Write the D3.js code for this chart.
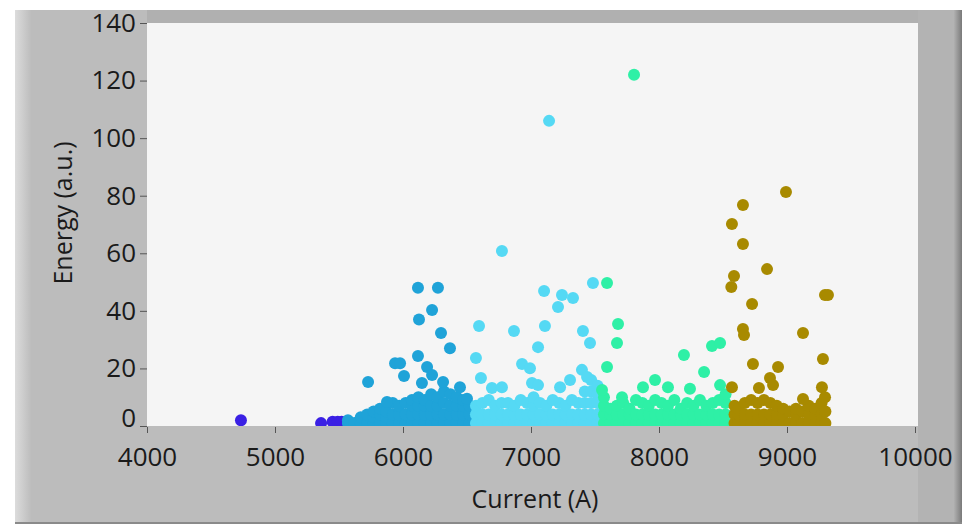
<!DOCTYPE html>
<html>
<head>
<meta charset="utf-8">
<script src="https://cdn.jsdelivr.net/npm/d3@7"></script>
<style>
  body { margin: 0; background: #ffffff; }
  text { font-family: "Open Sans", sans-serif; fill: #1a1a1a; }
</style>
</head>
<body>
<script>
// tick labels
var xTicks = [4000, 5000, 6000, 7000, 8000, 9000, 10000];
var yTicks = [0, 20, 40, 60, 80, 100, 120, 140];

// groups, in draw order: name, colour
var groups = ["g1", "g2", "g3", "g4", "g5"];
var groupColors = ["#3a20e4", "#1fa3d8", "#55d9f4", "#2ef0a6", "#a88a00"];

// [current, energy] points per group
var darkBlue = [[4734, 2], [5360, 1], [5450, 1.5], [5490, 1.5], [5520, 1.5]];

var blue = [
  [5570, 1], [5570, 2], [5620, 1], [5670, 1], [5670, 3], [5720, 1], [5720, 4],
  [5770, 1], [5770, 3], [5770, 5], [5820, 1], [5820, 4], [5820, 6],
  [5870, 1], [5870, 3], [5870, 5], [5920, 1], [5920, 4], [5920, 8],
  [5970, 1], [5970, 4], [5970, 7], [6020, 1], [6020, 4], [6020, 8],
  [6070, 1], [6070, 4], [6070, 7], [6070, 9], [6120, 1], [6120, 4], [6120, 7], [6120, 10],
  [6170, 1], [6170, 4], [6170, 7], [6170, 9], [6220, 1], [6220, 4], [6220, 7], [6220, 11],
  [6270, 1], [6270, 4], [6270, 7], [6270, 10], [6320, 1], [6320, 4], [6320, 8], [6320, 12],
  [6370, 1], [6370, 4], [6370, 7], [6370, 11], [6420, 1], [6420, 4], [6420, 7], [6420, 10],
  [6470, 1], [6470, 4], [6470, 7], [6470, 9], [6520, 1], [6520, 4], [6520, 7],
  // outliers
  [5727, 15.3], [6117, 48], [6273, 48], [6227, 40.3], [6125, 37], [6297, 32.3],
  [6367, 27], [6117, 24.3], [5938, 21.8], [5977, 21.8], [6008, 17.4], [6188, 20.5],
  [6227, 17.7], [6148, 14.9], [6313, 15.3], [6445, 13.5], [6500, 9.5], [5875, 8.3]
];

var cyan = [
  [6570, 1], [6570, 4], [6570, 7], [6620, 1], [6620, 4], [6620, 8],
  [6670, 1], [6670, 4], [6670, 9], [6720, 1], [6720, 4], [6720, 7],
  [6770, 1], [6770, 4], [6770, 8], [6820, 1], [6820, 4], [6820, 8],
  [6870, 1], [6870, 4], [6870, 7], [6920, 1], [6920, 4], [6920, 9],
  [6970, 1], [6970, 4], [6970, 8], [7020, 1], [7020, 4], [7020, 7], [7020, 10],
  [7070, 1], [7070, 4], [7070, 8], [7120, 1], [7120, 4], [7120, 7],
  [7170, 1], [7170, 4], [7170, 9], [7220, 1], [7220, 4], [7220, 8],
  [7270, 1], [7270, 4], [7270, 7], [7320, 1], [7320, 4], [7320, 9],
  [7370, 1], [7370, 4], [7370, 8], [7420, 1], [7420, 4], [7420, 8], [7420, 12],
  [7470, 1], [7470, 4], [7470, 8], [7470, 12], [7470, 16],
  [7520, 1], [7520, 4], [7520, 8], [7520, 11], [7520, 14],
  // outliers
  [7141, 106], [6773, 60.8], [6594, 34.7], [6867, 33], [7102, 46.9], [7242, 45.5],
  [7328, 44.5], [7211, 41.3], [7109, 34.7], [7055, 27.4], [7406, 33], [7461, 28.8],
  [7484, 49.7], [6570, 23.6], [6609, 16.7], [6930, 21.5], [6992, 20.1], [6695, 13.2],
  [6773, 13.5], [7008, 14.9], [7055, 14.2], [7305, 16], [7227, 13.5], [7398, 19.5],
  [7438, 17]
];

var mint = [
  [7570, 1], [7570, 4], [7570, 7], [7570, 10], [7620, 1], [7620, 4], [7620, 6],
  [7670, 1], [7670, 4], [7670, 7], [7720, 1], [7720, 4], [7720, 8],
  [7770, 1], [7770, 4], [7770, 6], [7820, 1], [7820, 4], [7820, 9],
  [7870, 1], [7870, 4], [7870, 8], [7920, 1], [7920, 4], [7920, 7],
  [7970, 1], [7970, 4], [7970, 9], [8020, 1], [8020, 4], [8020, 8],
  [8070, 1], [8070, 4], [8070, 7], [8120, 1], [8120, 4], [8120, 9],
  [8170, 1], [8170, 4], [8170, 6], [8220, 1], [8220, 4], [8220, 8],
  [8270, 1], [8270, 4], [8270, 7], [8320, 1], [8320, 4], [8320, 9],
  [8370, 1], [8370, 4], [8370, 7], [8420, 1], [8420, 4], [8420, 8],
  [8470, 1], [8470, 4], [8470, 9], [8520, 1], [8520, 4], [8520, 8], [8520, 11],
  // outliers
  [7805, 122], [7594, 49.7], [7680, 35.4], [7672, 28.8], [7594, 20.5], [8195, 24.7],
  [8414, 27.8], [8477, 28.8], [8352, 18.8], [7711, 10], [7875, 13.5], [7969, 16],
  [8070, 13.5], [8242, 12.9], [8477, 14.2], [7555, 12.5]
];

var olive = [
  [8590, 1], [8590, 4], [8590, 7], [8620, 1], [8620, 4], [8620, 6],
  [8670, 1], [8670, 4], [8670, 8], [8720, 1], [8720, 4], [8720, 9],
  [8770, 1], [8770, 4], [8770, 8], [8820, 1], [8820, 4], [8820, 9],
  [8870, 1], [8870, 4], [8870, 8], [8920, 1], [8920, 4], [8920, 7],
  [8970, 1], [8970, 4], [8970, 6], [9020, 1], [9020, 5], [9070, 1], [9070, 4], [9070, 6],
  [9120, 1], [9120, 5], [9170, 1], [9170, 4], [9170, 7], [9220, 1], [9220, 4], [9220, 6],
  [9270, 1], [9270, 4], [9270, 8], [9300, 1], [9300, 5],
  // outliers
  [8992, 81.3], [8656, 76.8], [8570, 70.2], [8656, 63.2], [8844, 54.5], [8586, 52.1],
  [8565, 48.3], [9297, 45.5], [9320, 45.5], [8727, 42.4], [8656, 33.7], [8664, 31.6],
  [9125, 32.3], [9281, 23.3], [8734, 21.5], [8930, 20.5], [8867, 16.7], [8891, 14.2],
  [8781, 13.2], [8570, 13.5], [9125, 9.4], [9273, 13.5], [9297, 10]
];

var series = [darkBlue, blue, cyan, mint, olive];

var W = 975, H = 527;
var plot = { left: 147, right: 918, top: 23, bottom: 426 };

var svg = d3.select("body").append("svg")
    .attr("width", W)
    .attr("height", H);

// frame with bevel
var defs = svg.append("defs");
var lg = defs.append("linearGradient").attr("id", "leftEdge");
lg.append("stop").attr("offset", "0%").attr("stop-color", "#dcdcdc");
lg.append("stop").attr("offset", "100%").attr("stop-color", "#bdbdbd");
var rg = defs.append("linearGradient").attr("id", "rightEdge");
rg.append("stop").attr("offset", "0%").attr("stop-color", "#b0b0b0");
rg.append("stop").attr("offset", "100%").attr("stop-color", "#7a7a7a");

svg.append("rect")
    .attr("x", 15).attr("y", 10).attr("width", 947).attr("height", 514)
    .attr("fill", "#bcbcbc");
svg.append("rect")
    .attr("x", 15).attr("y", 10).attr("width", 16).attr("height", 514)
    .attr("fill", "url(#leftEdge)");
svg.append("rect")
    .attr("x", 147).attr("y", 10).attr("width", 808).attr("height", 13)
    .attr("fill", "#b0b0b0");
svg.append("rect")
    .attr("x", 918).attr("y", 10).attr("width", 37).attr("height", 514)
    .attr("fill", "#b3b3b3");
svg.append("rect")
    .attr("x", 954).attr("y", 10).attr("width", 8).attr("height", 514)
    .attr("fill", "url(#rightEdge)");
svg.append("rect")
    .attr("x", 15).attr("y", 522).attr("width", 947).attr("height", 2)
    .attr("fill", "#8a8a8a");

svg.append("rect")
    .attr("x", plot.left).attr("y", plot.top)
    .attr("width", plot.right - plot.left).attr("height", plot.bottom - plot.top)
    .attr("fill", "#f5f5f5");

var x = d3.scaleLinear()
    .domain([4000, 10000])
    .range([plot.left, plot.left + 768]);

var y = d3.scaleLinear()
    .domain([0, 140])
    .range([plot.bottom, plot.top]);

defs.append("clipPath").attr("id", "clip")
  .append("rect")
    .attr("x", plot.left).attr("y", plot.top)
    .attr("width", plot.right - plot.left).attr("height", plot.bottom - plot.top);

var dots = svg.append("g").attr("clip-path", "url(#clip)");
series.forEach(function(pts, i) {
    dots.append("g")
        .attr("class", groups[i])
      .selectAll("circle")
      .data(pts)
      .enter().append("circle")
        .attr("cx", function(d) { return x(d[0]); })
        .attr("cy", function(d) { return y(d[1]); })
        .attr("r", 6)
        .attr("fill", groupColors[i]);
});

// axes
var xAxis = svg.append("g")
    .attr("transform", "translate(0," + plot.bottom + ")")
    .call(d3.axisBottom(x).tickValues(xTicks).tickSize(6).tickPadding(16).tickFormat(d3.format("d")));
xAxis.select(".domain").remove();
xAxis.selectAll("line").attr("stroke", "#555").attr("transform", "translate(0,1)");
xAxis.selectAll("text").style("font-size", "26px").attr("fill", "#1a1a1a");

var yAxis = svg.append("g")
    .attr("transform", "translate(" + plot.left + ",0)")
    .call(d3.axisLeft(y).tickValues(yTicks).tickSize(7).tickPadding(4).tickFormat(d3.format("d")));
yAxis.select(".domain").remove();
yAxis.selectAll("line").attr("stroke", "#555");
yAxis.selectAll("text").style("font-size", "26px").attr("fill", "#1a1a1a");
// the bottom label sits a little higher, clear of the x labels
yAxis.selectAll(".tick text")
    .filter(function(d) { return d === 0; })
    .attr("y", -8);

svg.append("text")
    .attr("x", 535).attr("y", 508)
    .attr("text-anchor", "middle")
    .style("font-size", "25px")
    .text("Current (A)");

svg.append("text")
    .attr("transform", "translate(72,213) rotate(-90)")
    .attr("text-anchor", "middle")
    .style("font-size", "25px")
    .text("Energy (a.u.)");
</script>
</body>
</html>
